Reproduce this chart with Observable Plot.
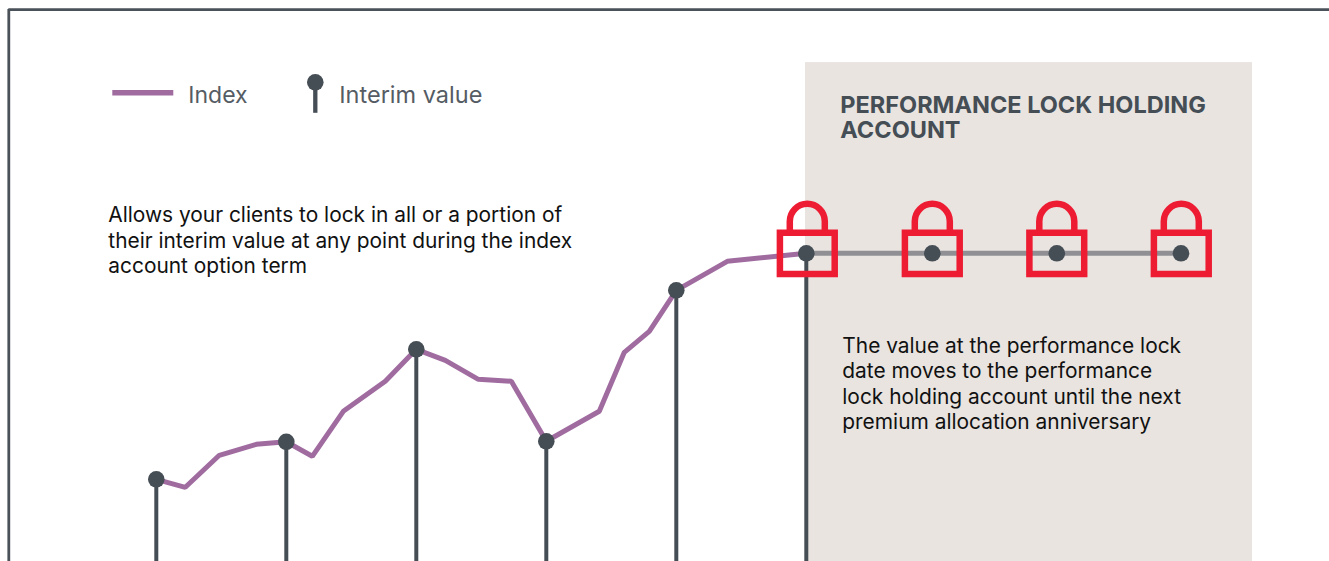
<!DOCTYPE html>
<html><head><meta charset="utf-8">
<script src="https://cdn.jsdelivr.net/npm/d3@7"></script>
<script src="https://cdn.jsdelivr.net/npm/@observablehq/plot@0.6"></script>
<style>html,body{margin:0;padding:0;background:#fff;overflow:hidden}svg{display:block}</style>
</head><body><div id="chart"></div>
<script>
const indexDays=[0,29,63,100,130,156,187,229,260,289,322,355,390,443,468,493,520,571,650];
const indexValues=[82,74,106,117,119.5,105,150,180,212,201,182,180,120,150,209,230,271,300,308];
const interimDays=[0,130,260,390,520,650];
const interimValues=[82,119.5,212,120,271,308];
const lockDays=[651,776,900.5,1025];
const lockValue=308;
const holdingDots=[776,900.5,1024.7];
const accountStart=649.2, accountEnd=1096.2, accountTop=498.7;
const frameDay=-147.5, frameValue=551.7, floorValue=-3, frameEnd=1180;
const legendLineDays=[-44,17], legendValue=468.5;
const legendPinDay=159, legendPinTop=479, legendPinBottom=448;
const titleText="PERFORMANCE LOCK HOLDING\nACCOUNT";
const leftNote="Allows your clients to lock in all or a portion of\ntheir interim value at any point during the index\naccount option term";
const rightNote="The value at the performance lock\ndate moves to the performance\nlock holding account until the next\npremium allocation anniversary";
const FONT="Inter";
const row=(xs,ys)=>xs.map((x,i)=>({x,y:ys[i]}));
const lockSymbol={draw(c){
  c.moveTo(-27.4,-20.5);c.lineTo(27.4,-20.5);c.lineTo(27.4,20.7);c.lineTo(-27.4,20.7);c.closePath();
  c.moveTo(-17.5,-21);c.lineTo(-17.5,-32);c.arc(0,-32,17.5,Math.PI,2*Math.PI);c.lineTo(17.5,-21);
}};
const label=(t,x,y,o)=>Plot.text([t],{x:()=>x,y:()=>y,text:d=>d,textAnchor:"start",lineAnchor:"top",fontFamily:FONT,...o});
const chart=Plot.plot({
  width:1329,height:561,margin:0,
  x:{domain:[-156,1173],range:[-0.2,1328.8],axis:null},
  y:{domain:[0,561],range:[560.8,-0.2],axis:null},
  marks:[
    Plot.rect([0],{x1:()=>accountStart,x2:()=>accountEnd,y1:()=>floorValue,y2:()=>accountTop,fill:"#e9e4e0"}),
    Plot.ruleX([frameDay],{y1:floorValue,y2:frameValue,stroke:"#4a5159",strokeWidth:2.8}),
    Plot.ruleY([frameValue],{x1:frameDay,x2:frameEnd,stroke:"#4a5159",strokeWidth:2.8}),
    Plot.line(row(indexDays,indexValues),{x:"x",y:"y",stroke:"#a06ca0",strokeWidth:5,strokeLinejoin:"miter"}),
    Plot.line(row([lockDays[0],lockDays[3]],[lockValue,lockValue]),{x:"x",y:"y",stroke:"#8f8f94",strokeWidth:5}),
    Plot.ruleX(row(interimDays,interimValues),{x:"x",y1:floorValue,y2:"y",stroke:"#454d55",strokeWidth:4}),
    Plot.dot(lockDays,{x:d=>d,y:()=>lockValue,symbol:lockSymbol,r:10,fill:"none",stroke:"#ee1c33",strokeWidth:6.5,strokeLinejoin:"miter"}),
    Plot.dot(row(interimDays,interimValues),{x:"x",y:"y",r:8.3,fill:"#454d55"}),
    Plot.dot(holdingDots,{x:d=>d,y:()=>lockValue,r:8.3,fill:"#454d55"}),
    Plot.line(row(legendLineDays,[legendValue,legendValue]),{x:"x",y:"y",stroke:"#a06ca0",strokeWidth:5.5,strokeLinecap:"butt"}),
    Plot.ruleX([legendPinDay],{y1:legendPinBottom,y2:legendPinTop,stroke:"#454d55",strokeWidth:4.3}),
    Plot.dot([legendPinDay],{x:d=>d,y:()=>legendPinTop,r:8.3,fill:"#454d55"}),
    label("Index",32,474.5,{fontSize:23,fill:"#555c64"}),
    label("Interim value",183,475,{fontSize:23.5,fill:"#555c64"}),
    label(titleText,684,466.3,{fontSize:23.5,fontWeight:700,fill:"#454d55",lineHeight:1.06}),
    label(leftNote,-48,357.3,{fontSize:20.9,fill:"#111",lineHeight:1.22}),
    label(rightNote,686,226.6,{fontSize:20.9,fill:"#111",lineHeight:1.22})
  ]
});
document.getElementById("chart").append(chart);
</script></body></html>
